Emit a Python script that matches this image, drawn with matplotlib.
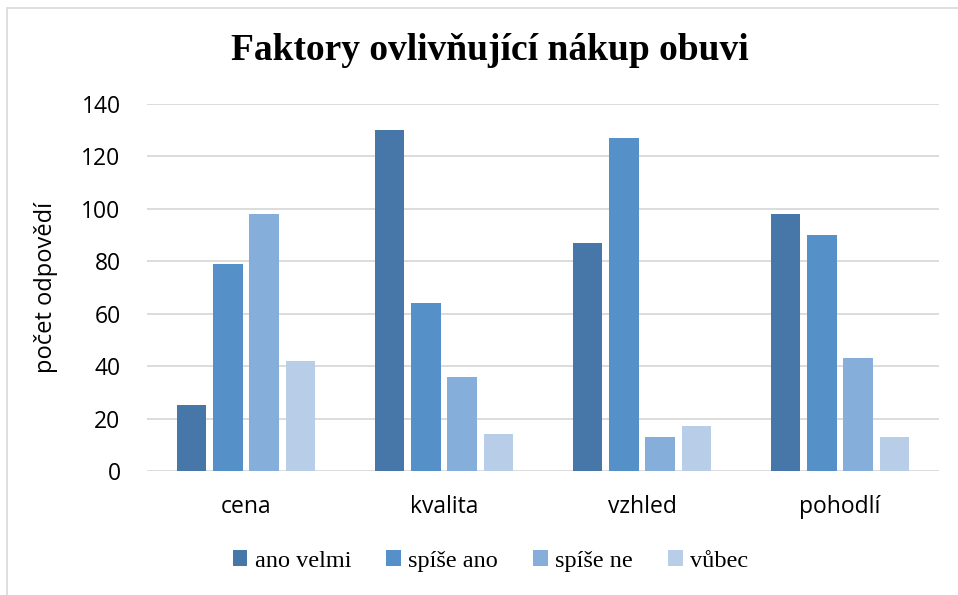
import numpy as np
import matplotlib.pyplot as plt
from matplotlib.patches import Rectangle

# Data
categories = ['cena', 'kvalita', 'vzhled', 'pohodlí']
series_names = ['ano velmi', 'spíše ano', 'spíše ne', 'vůbec']
ano_velmi = [25, 130, 87, 98]
spise_ano = [79, 64, 127, 90]
spise_ne = [98, 36, 13, 43]
vubec = [42, 14, 17, 13]
colors = ['#4677A8', '#5590C8', '#85AEDB', '#B7CDE8']

series = [ano_velmi, spise_ano, spise_ne, vubec]

fig = plt.figure(figsize=(9.58, 5.95), dpi=100)
ax = fig.add_axes([147 / 958, 1 - 471 / 595, (939 - 147) / 958, (471 - 104) / 595])

# outer chart border (only top/left visible in the original)
fig.patches.append(Rectangle((7 / 958, -0.1), 1.2, (595 - 8) / 595 + 0.1,
                             transform=fig.transFigure, fill=False,
                             edgecolor='#D9D9D9', linewidth=1.2))

x = np.arange(len(categories))
width = 0.147
step = 0.182
for i, (name, vals) in enumerate(zip(series_names, series)):
    ax.bar(x + (i - 1.5) * step, vals, width, color=colors[i], label=name, zorder=3)

ax.set_xlim(-0.5, len(categories) - 0.5)
ax.set_ylim(0, 140)
ax.set_yticks(range(0, 141, 20))
ax.set_xticks(x)
ax.set_xticklabels(categories)

sans = 'Open Sans'
for lbl in ax.get_yticklabels() + ax.get_xticklabels():
    lbl.set_fontfamily(sans)
    lbl.set_fontsize(16.5)
    lbl.set_color('#000000')
ax.tick_params(axis='both', length=0)
ax.tick_params(axis='y', pad=19)
ax.tick_params(axis='x', pad=17)

ax.grid(axis='y', color='#D9D9D9', linewidth=1.3, zorder=0)
for s in ax.spines.values():
    s.set_visible(False)

ax.set_ylabel('počet odpovědí', fontfamily=sans, fontsize=17, labelpad=17)

fig.text(0.511, 1 - 51 / 595, 'Faktory ovlivňující nákup obuvi', ha='center', va='center',
         fontfamily='Liberation Serif', fontweight='bold', fontsize=27)

leg = fig.legend(loc='center', bbox_to_anchor=(0.512, 1 - 561 / 595), ncol=4, frameon=False,
                 prop={'family': 'Liberation Serif', 'size': 17.5},
                 handlelength=0.6, handleheight=0.6, handletextpad=0.3, columnspacing=1.45)

plt.savefig('out.png', dpi=100)
